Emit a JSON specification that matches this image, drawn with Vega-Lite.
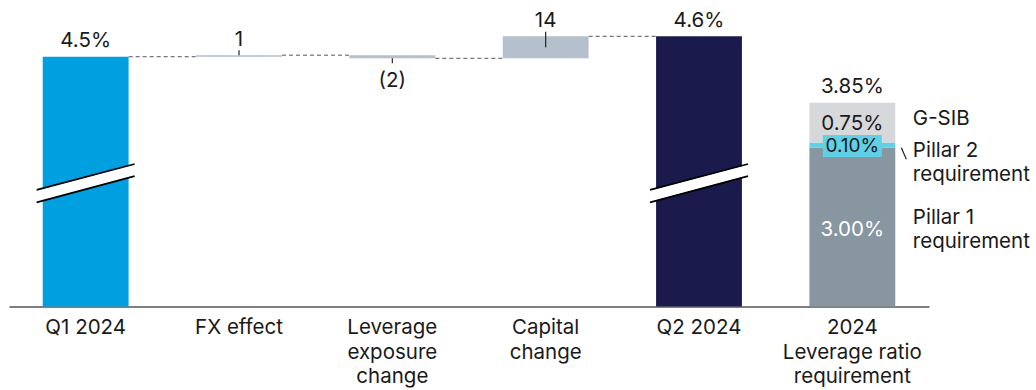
{
  "$schema": "https://vega.github.io/schema/vega-lite/v6.json",
  "width": 920,
  "height": 306.5,
  "autosize": {"type": "none"},
  "padding": {"left": 9, "top": 0, "right": 107, "bottom": 83.5},
  "background": "white",
  "config": {
    "view": {"stroke": null},
    "font": "Inter",
    "text": {"font": "Inter", "fontSize": 20.5, "color": "#1a1a1a"}
  },
  "datasets": {
    "bars": [
      {"cat": "Q1 2024", "part": "Q1 2024", "start": 0, "end": 4.5, "label": "4.5%", "note": ""},
      {"cat": "FX effect", "part": "change", "start": 4.5, "end": 4.51, "label": "1", "note": ""},
      {"cat": "Leverage|exposure|change", "part": "change", "start": 4.51, "end": 4.49, "label": "(2)", "note": ""},
      {"cat": "Capital|change", "part": "change", "start": 4.49, "end": 4.63, "label": "14", "note": ""},
      {"cat": "Q2 2024", "part": "Q2 2024", "start": 0, "end": 4.63, "label": "4.6%", "note": ""},
      {"cat": "2024|Leverage ratio|requirement", "part": "Pillar 1", "start": 0, "end": 3.0, "label": "3.00%", "note": "Pillar 1\nrequirement"},
      {"cat": "2024|Leverage ratio|requirement", "part": "Pillar 2", "start": 3.0, "end": 3.1, "label": "0.10%", "note": "Pillar 2\nrequirement"},
      {"cat": "2024|Leverage ratio|requirement", "part": "G-SIB", "start": 3.1, "end": 3.85, "label": "0.75%", "note": "G-SIB"}
    ],
    "links": [
      {"cat": "Q1 2024", "next": "FX effect", "level": 4.5},
      {"cat": "FX effect", "next": "Leverage|exposure|change", "level": 4.51},
      {"cat": "Leverage|exposure|change", "next": "Capital|change", "level": 4.49},
      {"cat": "Capital|change", "next": "Q2 2024", "level": 4.63}
    ],
    "totals": [
      {"cat": "2024|Leverage ratio|requirement", "value": 3.85, "label": "3.85%"}
    ]
  },
  "encoding": {
    "x": {
      "field": "cat",
      "type": "nominal",
      "scale": {
        "domain": ["Q1 2024", "FX effect", "Leverage|exposure|change", "Capital|change", "Q2 2024", "2024|Leverage ratio|requirement"],
        "paddingInner": 0.44,
        "paddingOuter": 0.22
      },
      "axis": {
        "title": null,
        "labelExpr": "split(datum.value, '|')",
        "labelAngle": 0,
        "labelFont": "Inter",
        "labelFontSize": 20.5,
        "labelColor": "#1a1a1a",
        "labelLineHeight": 24.5,
        "labelBaseline": "top",
        "labelPadding": 11,
        "labelLimit": 0,
        "labelOverlap": false,
        "ticks": false,
        "grid": false,
        "domainColor": "#555555",
        "domainWidth": 1.6
      }
    }
  },
  "layer": [
    {
      "data": {"name": "links"},
      "mark": {"type": "rule", "strokeDash": [4, 3], "color": "#555555", "strokeWidth": 1, "xOffset": 43, "x2Offset": -43},
      "encoding": {
        "x2": {"field": "next"},
        "y": {"field": "level", "type": "quantitative", "scale": {"domain": [0, 3.85, 4.49, 4.63], "range": [306.5, 102.7, 58.3, 36.3], "nice": false, "zero": false}, "axis": null}
      }
    },
    {
      "data": {"name": "bars"},
      "mark": {"type": "bar"},
      "encoding": {
        "y": {"field": "end", "type": "quantitative", "scale": {"domain": [0, 3.85, 4.49, 4.63], "range": [306.5, 102.7, 58.3, 36.3], "nice": false, "zero": false}, "axis": null},
        "y2": {"field": "start"},
        "color": {
          "field": "part",
          "type": "nominal",
          "scale": {
            "domain": ["Q1 2024", "change", "Q2 2024", "Pillar 1", "Pillar 2", "G-SIB"],
            "range": ["#009fdf", "#b4c0cc", "#1b1a4c", "#8896a2", "#5fd0e6", "#d7d8da"]
          },
          "legend": null
        }
      }
    },
    {
      "data": {"name": "bars"},
      "transform": [{"filter": "datum.part == 'Pillar 2'"}],
      "mark": {"type": "bar", "width": 59, "color": "#5fd0e6"},
      "encoding": {
        "y": {"datum": 3.239, "type": "quantitative", "scale": {"domain": [0, 3.85, 4.49, 4.63], "range": [306.5, 102.7, 58.3, 36.3], "nice": false, "zero": false}, "axis": null},
        "y2": {"datum": 2.824}
      }
    },
    {
      "data": {"name": "bars"},
      "transform": [{"filter": "datum.part == 'Q1 2024' || datum.part == 'Q2 2024'"}],
      "mark": {"type": "rule", "color": "white", "strokeWidth": 11, "xOffset": -49, "x2Offset": 49},
      "encoding": {
        "x2": {"field": "cat"},
        "y": {"datum": 2.084, "type": "quantitative", "scale": {"domain": [0, 3.85, 4.49, 4.63], "range": [306.5, 102.7, 58.3, 36.3], "nice": false, "zero": false}, "axis": null},
        "y2": {"datum": 2.578}
      }
    },
    {
      "data": {"name": "bars"},
      "transform": [{"filter": "datum.part == 'Q1 2024' || datum.part == 'Q2 2024'"}],
      "mark": {"type": "rule", "color": "#000000", "strokeWidth": 1.8, "xOffset": -49, "x2Offset": 49},
      "encoding": {
        "x2": {"field": "cat"},
        "y": {"datum": 2.201, "type": "quantitative", "scale": {"domain": [0, 3.85, 4.49, 4.63], "range": [306.5, 102.7, 58.3, 36.3], "nice": false, "zero": false}, "axis": null},
        "y2": {"datum": 2.692}
      }
    },
    {
      "data": {"name": "bars"},
      "transform": [{"filter": "datum.part == 'Q1 2024' || datum.part == 'Q2 2024'"}],
      "mark": {"type": "rule", "color": "#000000", "strokeWidth": 1.8, "xOffset": -49, "x2Offset": 49},
      "encoding": {
        "x2": {"field": "cat"},
        "y": {"datum": 1.968, "type": "quantitative", "scale": {"domain": [0, 3.85, 4.49, 4.63], "range": [306.5, 102.7, 58.3, 36.3], "nice": false, "zero": false}, "axis": null},
        "y2": {"datum": 2.465}
      }
    },
    {
      "data": {"name": "bars"},
      "transform": [{"filter": "datum.cat == 'FX effect'"}],
      "mark": {"type": "rule", "color": "#222222", "strokeWidth": 1.2, "yOffset": -5, "y2Offset": 0},
      "encoding": {
        "y": {"field": "end", "type": "quantitative", "scale": {"domain": [0, 3.85, 4.49, 4.63], "range": [306.5, 102.7, 58.3, 36.3], "nice": false, "zero": false}, "axis": null},
        "y2": {"field": "end"}
      }
    },
    {
      "data": {"name": "bars"},
      "transform": [{"filter": "datum.cat == 'Capital|change'"}],
      "mark": {"type": "rule", "color": "#222222", "strokeWidth": 1.2, "yOffset": -4.6, "y2Offset": 11},
      "encoding": {
        "y": {"field": "end", "type": "quantitative", "scale": {"domain": [0, 3.85, 4.49, 4.63], "range": [306.5, 102.7, 58.3, 36.3], "nice": false, "zero": false}, "axis": null},
        "y2": {"field": "end"}
      }
    },
    {
      "data": {"name": "bars"},
      "transform": [{"filter": "datum.cat == 'Leverage|exposure|change'"}],
      "mark": {"type": "rule", "color": "#222222", "strokeWidth": 1.2, "yOffset": 0, "y2Offset": 5},
      "encoding": {
        "y": {"field": "end", "type": "quantitative", "scale": {"domain": [0, 3.85, 4.49, 4.63], "range": [306.5, 102.7, 58.3, 36.3], "nice": false, "zero": false}, "axis": null},
        "y2": {"field": "end"}
      }
    },
    {
      "data": {"name": "bars"},
      "transform": [{"filter": "datum.part == 'Pillar 2'"}],
      "mark": {"type": "rule", "color": "#222222", "strokeWidth": 1.2, "xOffset": 49, "x2Offset": 54},
      "encoding": {
        "x2": {"field": "cat"},
        "y": {"datum": 3.0, "type": "quantitative", "scale": {"domain": [0, 3.85, 4.49, 4.63], "range": [306.5, 102.7, 58.3, 36.3], "nice": false, "zero": false}, "axis": null},
        "y2": {"datum": 2.78}
      }
    },
    {
      "data": {"name": "bars"},
      "transform": [{"filter": "datum.part == 'Q1 2024' || datum.part == 'Q2 2024' || (datum.part == 'change' && datum.end > datum.start)"}],
      "mark": {"type": "text", "baseline": "alphabetic", "dy": -9.5},
      "encoding": {
        "y": {"field": "end", "type": "quantitative", "scale": {"domain": [0, 3.85, 4.49, 4.63], "range": [306.5, 102.7, 58.3, 36.3], "nice": false, "zero": false}, "axis": null},
        "text": {"field": "label"}
      }
    },
    {
      "data": {"name": "bars"},
      "transform": [{"filter": "datum.part == 'change' && datum.end < datum.start"}],
      "mark": {"type": "text", "baseline": "alphabetic", "dy": 28.5},
      "encoding": {
        "y": {"field": "end", "type": "quantitative", "scale": {"domain": [0, 3.85, 4.49, 4.63], "range": [306.5, 102.7, 58.3, 36.3], "nice": false, "zero": false}, "axis": null},
        "text": {"field": "label"}
      }
    },
    {
      "data": {"name": "totals"},
      "mark": {"type": "text", "baseline": "alphabetic", "dy": -9.7},
      "encoding": {
        "y": {"field": "value", "type": "quantitative", "scale": {"domain": [0, 3.85, 4.49, 4.63], "range": [306.5, 102.7, 58.3, 36.3], "nice": false, "zero": false}, "axis": null},
        "text": {"field": "label"}
      }
    },
    {
      "data": {"name": "bars"},
      "transform": [{"filter": "datum.part == 'G-SIB'"}],
      "mark": {"type": "text", "baseline": "middle", "dy": 20.8},
      "encoding": {
        "y": {"field": "end", "type": "quantitative", "scale": {"domain": [0, 3.85, 4.49, 4.63], "range": [306.5, 102.7, 58.3, 36.3], "nice": false, "zero": false}, "axis": null},
        "text": {"field": "label"}
      }
    },
    {
      "data": {"name": "bars"},
      "transform": [{"filter": "datum.part == 'Pillar 2'"}],
      "mark": {"type": "text", "baseline": "middle", "dy": 3.6, "fontSize": 19},
      "encoding": {
        "y": {"field": "end", "type": "quantitative", "scale": {"domain": [0, 3.85, 4.49, 4.63], "range": [306.5, 102.7, 58.3, 36.3], "nice": false, "zero": false}, "axis": null},
        "text": {"field": "label"}
      }
    },
    {
      "data": {"name": "bars"},
      "transform": [{"filter": "datum.part == 'Pillar 1'"}],
      "mark": {"type": "text", "baseline": "middle", "dy": 82, "color": "white"},
      "encoding": {
        "y": {"field": "end", "type": "quantitative", "scale": {"domain": [0, 3.85, 4.49, 4.63], "range": [306.5, 102.7, 58.3, 36.3], "nice": false, "zero": false}, "axis": null},
        "text": {"field": "label"}
      }
    },
    {
      "data": {"name": "bars"},
      "transform": [{"filter": "datum.part == 'G-SIB'"}],
      "mark": {"type": "text", "align": "left", "baseline": "top", "dx": 60.5, "dy": 6, "lineBreak": "\n", "lineHeight": 24},
      "encoding": {
        "y": {"field": "end", "type": "quantitative", "scale": {"domain": [0, 3.85, 4.49, 4.63], "range": [306.5, 102.7, 58.3, 36.3], "nice": false, "zero": false}, "axis": null},
        "text": {"field": "note"}
      }
    },
    {
      "data": {"name": "bars"},
      "transform": [{"filter": "datum.part == 'Pillar 2'"}],
      "mark": {"type": "text", "align": "left", "baseline": "top", "dx": 60.5, "dy": -1.2, "lineBreak": "\n", "lineHeight": 24},
      "encoding": {
        "y": {"field": "end", "type": "quantitative", "scale": {"domain": [0, 3.85, 4.49, 4.63], "range": [306.5, 102.7, 58.3, 36.3], "nice": false, "zero": false}, "axis": null},
        "text": {"field": "note"}
      }
    },
    {
      "data": {"name": "bars"},
      "transform": [{"filter": "datum.part == 'Pillar 1'"}],
      "mark": {"type": "text", "align": "left", "baseline": "top", "dx": 60.5, "dy": 60.5, "lineBreak": "\n", "lineHeight": 24},
      "encoding": {
        "y": {"field": "end", "type": "quantitative", "scale": {"domain": [0, 3.85, 4.49, 4.63], "range": [306.5, 102.7, 58.3, 36.3], "nice": false, "zero": false}, "axis": null},
        "text": {"field": "note"}
      }
    }
  ]
}
